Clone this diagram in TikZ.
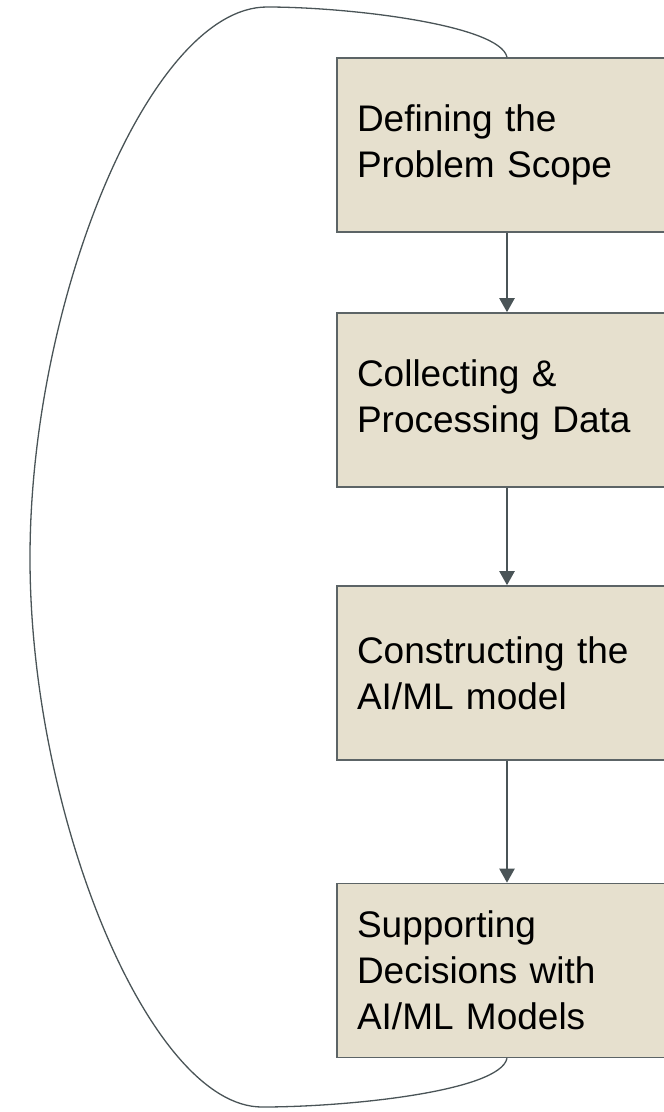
\documentclass[tikz,border=0pt]{standalone}
\usepackage{fontspec}
\setmainfont{Liberation Sans}
\usetikzlibrary{arrows.meta}
\definecolor{boxfill}{RGB}{230,224,206}
\definecolor{boxline}{RGB}{92,100,102}
\definecolor{linkcol}{RGB}{74,84,87}
\tikzset{
  stepbox/.style={draw=boxline, line width=1.6pt, fill=boxfill,
    minimum width=340pt, minimum height=174pt, text width=300pt,
    inner xsep=20pt, align=left,
    font=\fontsize{37}{46}\selectfont},
  flow/.style={draw=linkcol, line width=2.2pt,
    -{Triangle[length=14pt,width=15pt]}},
  loopback/.style={draw=linkcol, line width=1.3pt}
}
\begin{document}
\begin{tikzpicture}[x=1pt,y=-1pt]
\useasboundingbox (0,0) rectangle (664,1112);
\clip (0,0) rectangle (664,1112);

\node[stepbox] (b1) at (507,145)   {Defining the\\Problem Scope};
\node[stepbox] (b2) at (507,400)   {Collecting \&\\Processing Data};
\node[stepbox] (b3) at (507,673)   {Constructing the\\AI/ML model};
\node[stepbox] (b4) at (507,970.5) {Supporting\\Decisions with\\AI/ML Models};

\draw[flow] (b1.south) -- (b2.north);
\draw[flow] (b2.south) -- (b3.north);
\draw[flow] (b3.south) -- (b4.north);

% feedback loop from the last step back to the first
\coordinate (top) at (267,7);
\coordinate (left) at (30,558);
\coordinate (bottom) at (262,1107);
\draw[loopback] (b4.south)
  .. controls (500,1091) and (350,1107) .. (bottom)
  .. controls (150,1107) and (30,816) .. (left)
  .. controls (30,300) and (150,7) .. (top)
  .. controls (350,7) and (500,25) .. (b1.north);
\end{tikzpicture}
\end{document}
